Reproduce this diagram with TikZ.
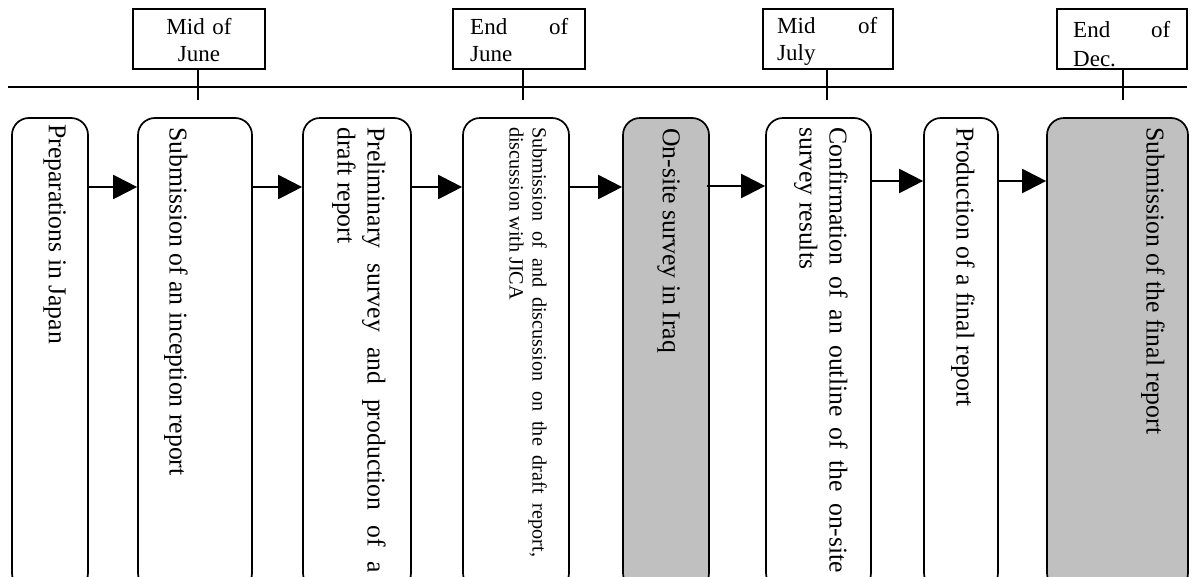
\documentclass[tikz,border=0pt]{standalone}
\usepackage{fontspec}
\setmainfont{Liberation Serif}
\usetikzlibrary{arrows.meta}
\begin{document}
\begin{tikzpicture}[x=1pt,y=-1pt,
  proc/.style={draw, line width=1.7pt, rounded corners=17pt, inner sep=0pt, minimum height=472pt, fill=white},
  grey/.style={fill={rgb,255:red,192;green,192;blue,192}},
  datebox/.style={draw, line width=1.7pt, inner sep=0pt, minimum height=60pt, minimum width=132pt},
  vtext/.style={rotate=-90, anchor=north west, inner sep=0pt, font=\fontsize{25.7}{30}\selectfont},
  vpar/.style={vtext, align=justify},
  dtext/.style={anchor=base west, inner sep=0pt, align=left, font=\fontsize{23}{27.4}\selectfont},
  arr/.style={line width=2.2pt, -{Triangle[length=24pt,width=24pt]}},
  tick/.style={line width=2.4pt}
]
\useasboundingbox (0,0) rectangle (1192,576);
% timeline
\coordinate (tl) at (8,87);
\coordinate (tr) at (1187,87);
\draw[line width=2.6pt] (tl) -- (tr);
% date boxes
\node[datebox] (d1) at (199,39) {};
\node[datebox] (d2) at (519,39) {};
\node[datebox, minimum width=130pt] (d3) at (828,39) {};
\node[datebox, minimum width=130pt] (d4) at (1122,39) {};
\node[dtext, anchor=base, align=center, text width=120pt] (dt1) at (199,34.3) {Mid of\\June};
\node[dtext, text width=98pt] (dt2) at (470,34.3) {End\hfill of\\June};
\node[dtext, text width=100pt] (dt3) at (777,33.5) {Mid\hfill of\\July};
\node[dtext, text width=97pt, font=\fontsize{23}{29.5}\selectfont] (dt4) at (1073,37) {End\hfill of\\Dec.};
% ticks
\coordinate (t1) at (198,100);
\coordinate (t2) at (523,100);
\coordinate (t3) at (827,100);
\coordinate (t4) at (1123,100);
\draw[tick] (t1 |- d1.south) -- (t1);
\draw[tick] (t2 |- d2.south) -- (t2);
\draw[tick] (t3 |- d3.south) -- (t3);
\draw[tick] (t4 |- d4.south) -- (t4);
% process boxes
\node[proc, minimum width=76pt] (b1) at (50,354) {};
\node[proc, minimum width=114pt] (b2) at (195,354) {};
\node[proc, minimum width=108pt] (b3) at (357,354) {};
\node[proc, minimum width=106pt] (b4) at (516,354) {};
\node[proc, grey, minimum width=86pt] (b5) at (666,354) {};
\node[proc, minimum width=105pt] (b6) at (818.5,354) {};
\node[proc, minimum width=74pt] (b7) at (961,354) {};
\node[proc, grey, minimum width=141pt] (b8) at (1117.5,354) {};
% texts
\node[vtext] (x1) at (66,124) {Preparations in Japan};
\node[vtext] (x2) at (188,127) {Submission of an inception report};
\node[vpar, text width=446pt] (x3) at (386,127) {Preliminary survey and production of a\linebreak draft report};
\node[vpar, text width=430pt, font=\fontsize{20.2}{23}\selectfont] (x4) at (547,127) {Submission of and discussion on the draft report,\linebreak discussion with JICA};
\node[vtext] (x5) at (680,128) {On-site survey in Iraq};
\node[vpar, text width=446pt] (x6) at (848,127) {Confirmation of an outline of the on-site\linebreak survey results};
\node[vtext] (x7) at (975,127) {Production of a final report};
\node[vtext] (x8) at (1165,127) {Submission of the final report};
% arrows
\draw[arr] (b1.east |- 0,187) -- (b2.west |- 0,187);
\draw[arr] (b2.east |- 0,187) -- (b3.west |- 0,187);
\draw[arr] (b3.east |- 0,187) -- (b4.west |- 0,187);
\draw[arr] (b4.east |- 0,187) -- (b5.west |- 0,187);
\draw[arr] ([xshift=-3pt]b5.east |- 0,186) -- (b6.west |- 0,186);
\draw[arr] (b6.east |- 0,181) -- (b7.west |- 0,181);
\draw[arr] (b7.east |- 0,181) -- (b8.west |- 0,181);
\end{tikzpicture}
\end{document}
